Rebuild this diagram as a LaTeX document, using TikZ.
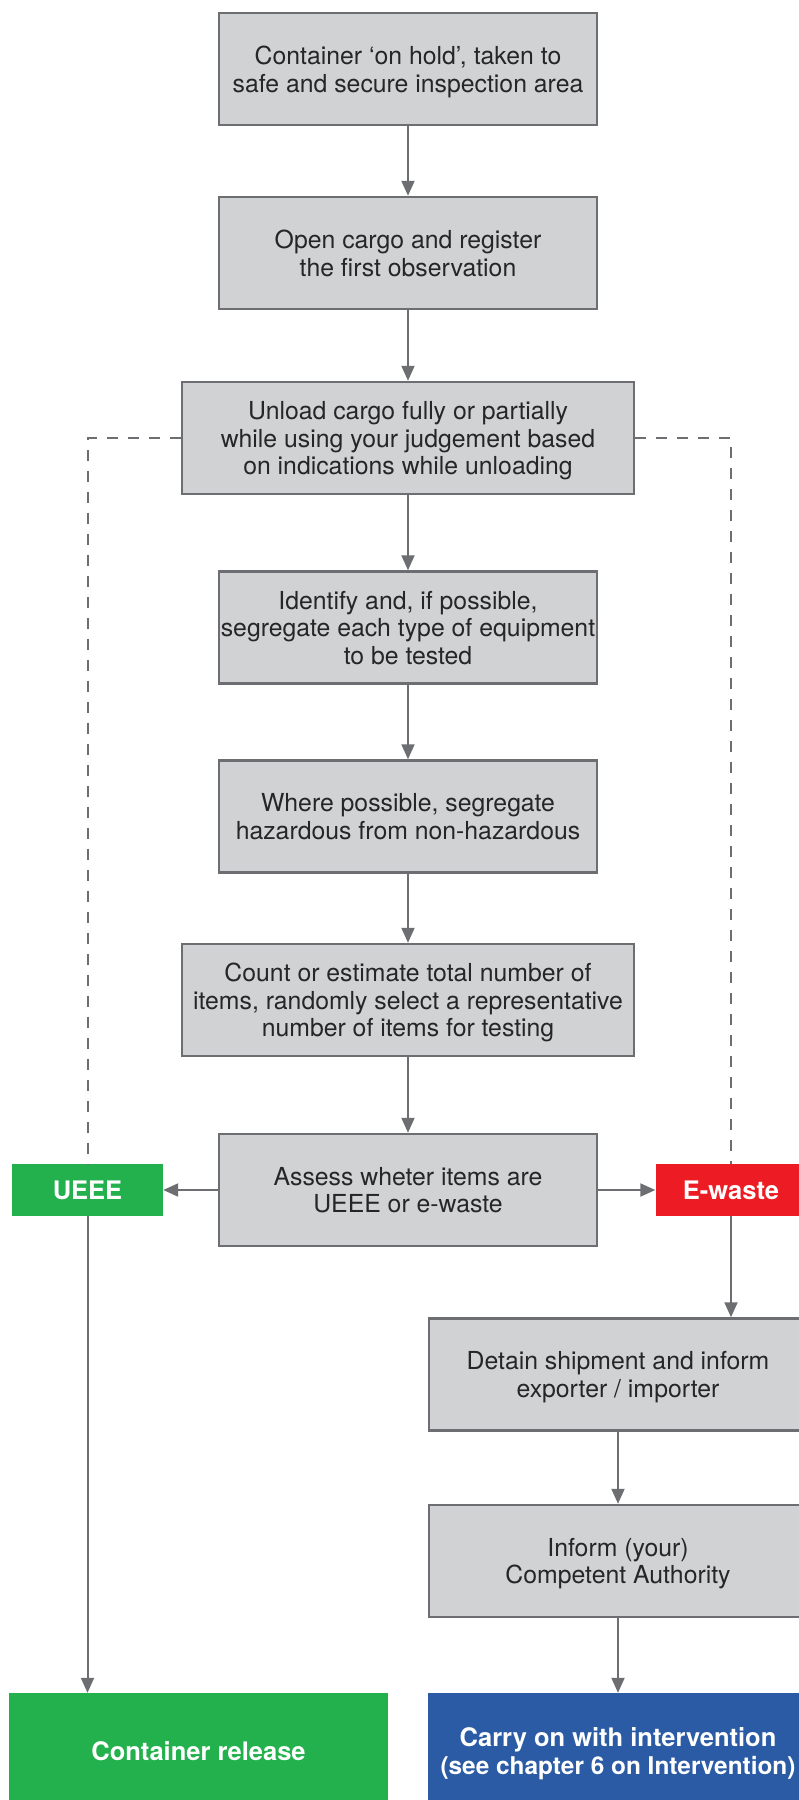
\documentclass[tikz,border=0pt]{standalone}
\usepackage{fontspec}
\setmainfont{TeX Gyre Heros}
\usetikzlibrary{arrows.meta}
\definecolor{boxgray}{HTML}{D1D2D4}
\definecolor{linegray}{HTML}{6D6E71}
\definecolor{okgreen}{HTML}{23B14D}
\definecolor{wastered}{HTML}{ED1C24}
\definecolor{interblue}{HTML}{2A5BA4}
\tikzset{
  stepbox/.style={draw=linegray, fill=boxgray, line width=2.5pt, align=center,
    minimum width=378pt, minimum height=112pt, inner sep=0pt, text depth=0pt,
    font=\fontsize{24.8}{27.5}\selectfont, text=black!85},
  widebox/.style={stepbox, minimum width=452pt},
  tagbox/.style={fill=#1, text=white, minimum width=151pt, minimum height=52pt,
    inner sep=0pt, text depth=0pt, font=\fontsize{25.5}{28}\selectfont\bfseries, align=center},
  endbox/.style={fill=#1, text=white, minimum width=380pt, minimum height=116pt,
    inner sep=0pt, text depth=0pt, font=\fontsize{25.5}{27.5}\selectfont\bfseries, align=center},
  flow/.style={draw=linegray, line width=2pt, -{Triangle[length=15pt,width=13pt]}},
  dashline/.style={draw=linegray, line width=2pt, dash pattern=on 11pt off 10pt}
}
\begin{document}
\begin{tikzpicture}[x=1pt,y=-1pt]
\useasboundingbox (0,0) rectangle (799,1800);
\clip (0,0) rectangle (799,1800);
\fill[white] (0,0) rectangle (799,1800);

\node[stepbox] (b1) at (408,69) {Container ‘on hold’, taken to\\safe and secure inspection area};
\node[stepbox] (b2) at (408,253) {Open cargo and register\\the first observation};
\node[widebox] (b3) at (408,438) {Unload cargo fully or partially\\while using your judgement based\\on indications while unloading};
\node[stepbox] (b4) at (408,627.5) {Identify and, if possible,\\segregate each type of equipment\\to be tested};
\node[stepbox] (b5) at (408,816.5) {Where possible, segregate\\hazardous from non-hazardous};
\node[widebox] (b6) at (408,1000) {Count or estimate total number of\\items, randomly select a representative\\number of items for testing};
\node[stepbox] (b7) at (408,1190) {Assess wheter items are\\UEEE or e-waste};

\node[tagbox=okgreen] (ueee) at (87.5,1190) {UEEE};
\node[tagbox=wastered] (ew) at (731,1190) {E-waste};

\node[stepbox] (b8) at (618,1374.5) {Detain shipment and inform\\exporter / importer};
\node[stepbox] (b9) at (618,1561) {Inform (your)\\Competent Authority};

\node[endbox=okgreen, minimum width=379pt] (rel) at (198.5,1751) {Container release};
\node[endbox=interblue] (inter) at (618,1751) {Carry on with intervention\\{\fontsize{24.4}{27.5}\selectfont (see chapter 6 on Intervention)}};

\draw[flow] (b1) -- (b2);
\draw[flow] (b2) -- (b3);
\draw[flow] (b3) -- (b4);
\draw[flow] (b4) -- (b5);
\draw[flow] (b5) -- (b6);
\draw[flow] (b6) -- (b7);
\draw[flow] (b7) -- (ueee);
\draw[flow] (b7) -- (ew);
\draw[flow] (ueee.south) -- (ueee.south |- rel.north);
\draw[flow] (ew.south) -- (ew.south |- b8.north);
\draw[flow] (b8) -- (b9);
\draw[flow] (b9) -- (inter);

\draw[dashline] (b3.west) -| (ueee.north);
\draw[dashline] (b3.east) -| (ew.north);
\end{tikzpicture}
\end{document}
